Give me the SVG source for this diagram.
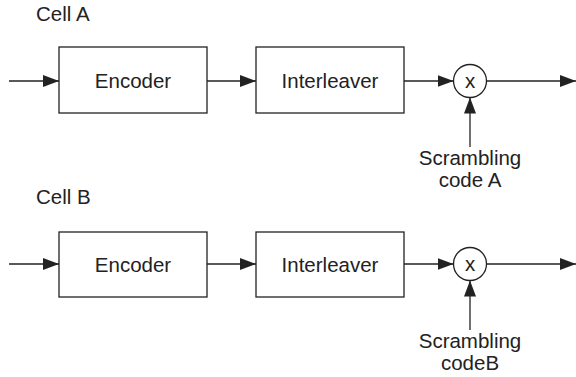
<svg xmlns="http://www.w3.org/2000/svg" width="576" height="377" viewBox="0 0 576 377">
<style>
.box{fill:#fff;stroke:#222;stroke-width:1.3}
.ln{fill:none;stroke:#222;stroke-width:1.3}
text{font-family:"Liberation Sans",Arial,sans-serif;font-size:20.5px;fill:#222}
.c{text-anchor:middle}
</style>
<defs>
<marker id="ah" markerUnits="userSpaceOnUse" markerWidth="17" markerHeight="12" refX="16" refY="6" orient="auto">
<path d="M0,0 L16,6 L0,12 Z" fill="#222"/>
</marker>
</defs>
<rect width="576" height="377" fill="#fff"/>
<g id="labels">
<text x="36" y="21">Cell A</text>
<text x="36" y="204">Cell B</text>
</g>
<g id="encA"><rect class="box" x="59" y="47" width="148" height="66"/><text class="c" x="133" y="88">Encoder</text></g>
<g id="intA"><rect class="box" x="256" y="47" width="148" height="66"/><text class="c" x="330" y="88">Interleaver</text></g>
<g id="mulA"><circle class="box" cx="470" cy="81" r="16.5"/><text class="c" x="470" y="88">x</text></g>
<g id="codeA"><text class="c" x="470" y="165">Scrambling</text><text class="c" x="470" y="187">code A</text></g>
<g id="encB"><rect class="box" x="59" y="232" width="148" height="65"/><text class="c" x="133" y="272">Encoder</text></g>
<g id="intB"><rect class="box" x="256" y="232" width="148" height="65"/><text class="c" x="330" y="272">Interleaver</text></g>
<g id="mulB"><circle class="box" cx="470" cy="264" r="16.5"/><text class="c" x="470" y="271">x</text></g>
<g id="codeB"><text class="c" x="470" y="348">Scrambling</text><text class="c" x="470" y="370">codeB</text></g>
<g id="connectors">
<line class="ln" x1="9" y1="81" x2="59" y2="81" marker-end="url(#ah)"/>
<line class="ln" x1="207" y1="81" x2="256" y2="81" marker-end="url(#ah)"/>
<line class="ln" x1="404" y1="81" x2="453.5" y2="81" marker-end="url(#ah)"/>
<line class="ln" x1="486.5" y1="81" x2="576" y2="81" marker-end="url(#ah)"/>
<line class="ln" x1="470" y1="147" x2="470" y2="97.5" marker-end="url(#ah)"/>
<line class="ln" x1="9" y1="264" x2="59" y2="264" marker-end="url(#ah)"/>
<line class="ln" x1="207" y1="264" x2="256" y2="264" marker-end="url(#ah)"/>
<line class="ln" x1="404" y1="264" x2="453.5" y2="264" marker-end="url(#ah)"/>
<line class="ln" x1="486.5" y1="264" x2="576" y2="264" marker-end="url(#ah)"/>
<line class="ln" x1="470" y1="330" x2="470" y2="280.5" marker-end="url(#ah)"/>
</g>
</svg>
